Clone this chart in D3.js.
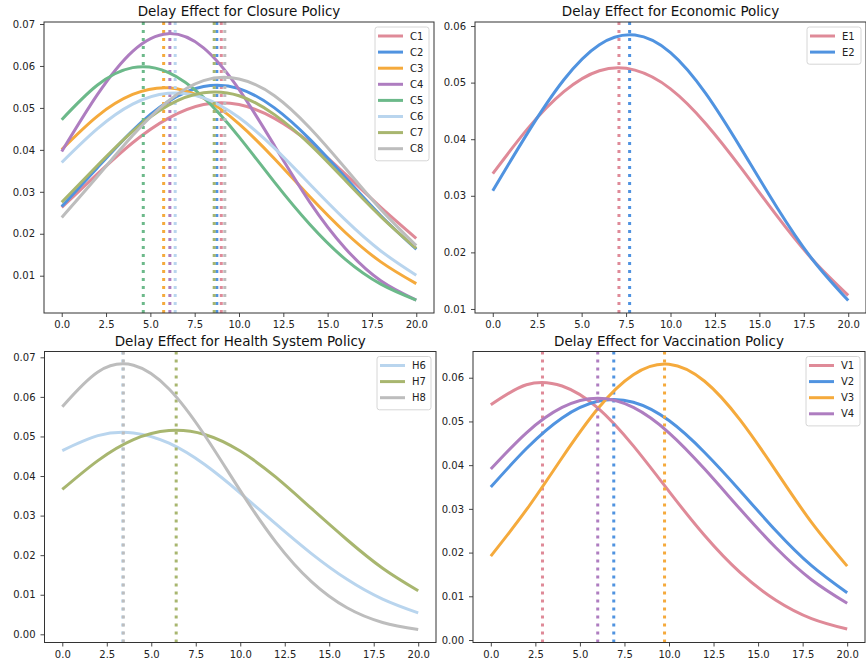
<!DOCTYPE html>
<html>
<head>
<meta charset="utf-8">
<script src="https://cdn.jsdelivr.net/npm/d3@7/dist/d3.min.js"></script>
<style>
  body { margin: 0; background: #fff; }
  svg { display: block; font-family: "DejaVu Sans", sans-serif; }
</style>
</head>
<body>
<svg id="chart" width="866" height="667"></svg>
<script>
// delay in days (sample points)
const days = [0, 2, 4, 6, 8, 10, 12, 14, 16, 18, 20];
const xTicks = [0, 2.5, 5, 7.5, 10, 12.5, 15, 17.5, 20];

// closure policy
const closureNames = ["C1", "C2", "C3", "C4", "C5", "C6", "C7", "C8"];
const closureValues = [
  [0.0263, 0.0342, 0.0417, 0.0475, 0.0508, 0.0508, 0.0475, 0.0417, 0.0342, 0.0263, 0.0189],
  [0.0265, 0.0357, 0.0446, 0.0515, 0.0551, 0.0546, 0.0500, 0.0425, 0.0334, 0.0243, 0.0163],
  [0.0401, 0.0480, 0.0532, 0.0548, 0.0523, 0.0462, 0.0379, 0.0288, 0.0203, 0.0133, 0.0081],
  [0.0396, 0.0531, 0.0635, 0.0677, 0.0643, 0.0544, 0.0410, 0.0275, 0.0165, 0.0088, 0.0042],
  [0.0472, 0.0554, 0.0596, 0.0585, 0.0525, 0.0431, 0.0323, 0.0222, 0.0139, 0.0080, 0.0042],
  [0.0370, 0.0450, 0.0509, 0.0535, 0.0524, 0.0477, 0.0404, 0.0318, 0.0233, 0.0159, 0.0101],
  [0.0275, 0.0362, 0.0444, 0.0506, 0.0536, 0.0529, 0.0484, 0.0413, 0.0327, 0.0241, 0.0165],
  [0.0239, 0.0336, 0.0434, 0.0516, 0.0565, 0.0569, 0.0529, 0.0452, 0.0356, 0.0258, 0.0172]
];
const closurePeaks = [9.0, 8.75, 5.75, 6.1, 4.6, 6.4, 8.6, 9.2];

// economic policy
const economicNames = ["E1", "E2"];
const economicValues = [
  [0.0339, 0.0420, 0.0484, 0.0521, 0.0522, 0.0489, 0.0427, 0.0348, 0.0264, 0.0187, 0.0124],
  [0.0309, 0.0413, 0.0505, 0.0567, 0.0584, 0.0553, 0.0480, 0.0382, 0.0279, 0.0187, 0.0115]
];
const economicPeaks = [7.1, 7.7];

// health system policy
const healthNames = ["H6", "H7", "H8"];
const healthValues = [
  [0.0464, 0.0502, 0.0509, 0.0483, 0.0429, 0.0357, 0.0279, 0.0204, 0.0139, 0.0089, 0.0054],
  [0.0366, 0.0439, 0.0492, 0.0515, 0.0505, 0.0463, 0.0397, 0.0318, 0.0239, 0.0167, 0.0110],
  [0.0575, 0.0663, 0.0680, 0.0620, 0.0503, 0.0363, 0.0233, 0.0133, 0.0067, 0.0030, 0.0012]
];
const healthPeaks = [3.4, 6.4, 3.43];

// vaccination policy
const vaccinationNames = ["V1", "V2", "V3", "V4"];
const vaccinationValues = [
  [0.0538, 0.0584, 0.0581, 0.0531, 0.0444, 0.0340, 0.0239, 0.0154, 0.0091, 0.0049, 0.0025],
  [0.0350, 0.0438, 0.0508, 0.0546, 0.0544, 0.0502, 0.0429, 0.0341, 0.0250, 0.0170, 0.0108],
  [0.0192, 0.0298, 0.0417, 0.0529, 0.0607, 0.0631, 0.0592, 0.0503, 0.0387, 0.0269, 0.0169],
  [0.0391, 0.0474, 0.0532, 0.0553, 0.0532, 0.0474, 0.0391, 0.0299, 0.0211, 0.0138, 0.0084]
];
const vaccinationPeaks = [2.9, 6.9, 9.75, 6.0];

// colour by policy number (1..8)
const palette = ["#df8a98", "#5093e0", "#f5aa3c", "#ae7dc0", "#6cb98a", "#b9d5ee", "#a8b66f", "#bdbdbd"];

const panels = [
  { title: "Delay Effect for Closure Policy", names: closureNames, values: closureValues, peaks: closurePeaks,
    yTicks: [0.01, 0.02, 0.03, 0.04, 0.05, 0.06, 0.07], yDomain: [0.00111, 0.07048],
    box: { left: 44, right: 434, top: 22, bottom: 313 } },
  { title: "Delay Effect for Economic Policy", names: economicNames, values: economicValues, peaks: economicPeaks,
    yTicks: [0.01, 0.02, 0.03, 0.04, 0.05, 0.06], yDomain: [0.00929, 0.06071],
    box: { left: 475, right: 866, top: 22, bottom: 313 } },
  { title: "Delay Effect for Health System Policy", names: healthNames, values: healthValues, peaks: healthPeaks,
    yTicks: [0, 0.01, 0.02, 0.03, 0.04, 0.05, 0.06, 0.07], yDomain: [-0.00207, 0.07147],
    box: { left: 44.5, right: 436, top: 351.5, bottom: 642.5 } },
  { title: "Delay Effect for Vaccination Policy", names: vaccinationNames, values: vaccinationValues, peaks: vaccinationPeaks,
    yTicks: [0, 0.01, 0.02, 0.03, 0.04, 0.05, 0.06], yDomain: [-0.00057, 0.0660],
    box: { left: 473, right: 865, top: 351.5, bottom: 642.5 } }
];

const svg = d3.select("#chart");
const colorOf = name => palette[+name.slice(1) - 1];

panels.forEach(p => {
  const b = p.box;
  const x = d3.scaleLinear().domain([-1, 21]).range([b.left, b.right]);
  const y = d3.scaleLinear().domain(p.yDomain).range([b.bottom, b.top]);
  const g = svg.append("g");

  const line = d3.line()
    .x((d, i) => x(days[i]))
    .y(d => y(d))
    .curve(d3.curveNatural);

  // curve + dotted line at the peak for each policy
  p.names.forEach((name, i) => {
    g.append("path")
      .attr("d", line(p.values[i]))
      .attr("fill", "none")
      .attr("stroke", colorOf(name))
      .attr("stroke-width", 3);
    g.append("line")
      .attr("x1", x(p.peaks[i])).attr("x2", x(p.peaks[i]))
      .attr("y1", b.top).attr("y2", b.bottom)
      .attr("stroke", colorOf(name))
      .attr("stroke-width", 3)
      .attr("stroke-dasharray", "3,5");
  });

  // axes
  const xAxis = g.append("g")
    .attr("transform", `translate(0,${b.bottom})`)
    .call(d3.axisBottom(x).tickValues(xTicks).tickFormat(d3.format(".1f")).tickSize(4).tickPadding(4));
  const yAxis = g.append("g")
    .attr("transform", `translate(${b.left},0)`)
    .call(d3.axisLeft(y).tickValues(p.yTicks).tickFormat(d3.format(".2f")).tickSize(4).tickPadding(5));
  [xAxis, yAxis].forEach(a => {
    a.select(".domain").remove();
    a.selectAll("line").attr("stroke", "#333").attr("stroke-width", 0.9);
    a.selectAll("text").attr("fill", "#222").style("font-size", "10px").style("font-family", "DejaVu Sans");
  });

  g.append("rect")
    .attr("x", b.left).attr("y", b.top)
    .attr("width", b.right - b.left).attr("height", b.bottom - b.top)
    .attr("fill", "none").attr("stroke", "#333").attr("stroke-width", 1);

  g.append("text")
    .attr("x", (b.left + b.right) / 2).attr("y", b.top - 6)
    .attr("text-anchor", "middle")
    .attr("fill", "#111")
    .style("font-size", "13.5px")
    .text(p.title);

  // legend
  const rowH = 16.1;
  const lw = 54, lh = p.names.length * rowH + 5;
  const lg = g.append("g").attr("transform", `translate(${b.right - 5 - lw},${b.top + 5})`);
  lg.append("rect")
    .attr("width", lw).attr("height", lh).attr("rx", 2.5)
    .attr("fill", "#fff").attr("fill-opacity", 0.8)
    .attr("stroke", "#d6d6d6").attr("stroke-width", 1);
  p.names.forEach((name, i) => {
    const cy = 9 + i * rowH;
    lg.append("line")
      .attr("x1", 3).attr("x2", 28).attr("y1", cy).attr("y2", cy)
      .attr("stroke", colorOf(name)).attr("stroke-width", 3);
    lg.append("text")
      .attr("x", 35).attr("y", cy + 3.6)
      .attr("fill", "#222")
      .style("font-size", "10px")
      .text(name);
  });
});
</script>
</body>
</html>
